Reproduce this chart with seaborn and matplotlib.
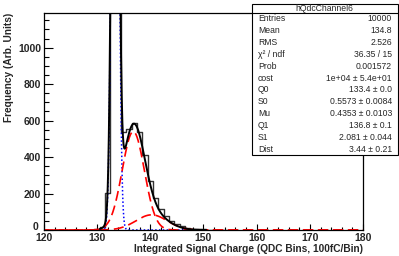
import numpy as np
import pandas as pd
import matplotlib
matplotlib.use("Agg")
import matplotlib.pyplot as plt
import matplotlib.transforms as mtransforms
import seaborn as sns
from matplotlib.patches import Rectangle
from matplotlib.ticker import MultipleLocator

sns.set_theme(style="ticks")
plt.rcParams["font.family"] = ["Liberation Sans", "DejaVu Sans"]

# ── data ─────────────────────────────────────────────────────────────────────
bin_centers = [129, 130, 131, 132, 133, 134, 135, 136, 137, 138, 139, 140,
               141, 142, 143, 144, 145, 146, 147, 148, 149, 150, 151, 152,
               153, 154]
bin_counts = [1, 3, 14, 205, 3450, 2900, 540, 555, 585, 540, 410, 270,
              175, 115, 78, 52, 34, 21, 13, 8, 5, 3, 2, 1, 1, 1]

# fit parameters shown in the stats box
n_entries = 10000
q0, s0 = 133.4, 0.5573
mu = 0.4353
q1, s1 = 136.8, 2.081
dist = 3.44
fit_lo, fit_hi = 130.5, 150.5

stats_names = ["Entries", "Mean", "RMS", "χ² / ndf", "Prob", "cost", "Q0",
               "S0", "Mu", "Q1", "S1", "Dist"]
stats_values = ["10000", "134.8", "2.526", "36.35 / 15", "0.001572",
                "1e+04 ± 5.4e+01", "133.4 ± 0.0", "0.5573 ± 0.0084",
                "0.4353 ± 0.0103", "136.8 ± 0.1", "2.081 ± 0.044",
                "3.44 ± 0.21"]
hist_name = "hQdcChannel6"


def gauss(x, mean, sigma, norm):
    return norm * np.exp(-0.5 * ((x - mean) / sigma) ** 2) / (sigma * np.sqrt(2 * np.pi))


fig = plt.figure(figsize=(3.99, 2.56), dpi=100)
ax = fig.add_axes([0.110, 0.1016, 0.800, 0.8476])

hist = pd.DataFrame({"qdc": bin_centers, "count": bin_counts})
sns.histplot(data=hist, x="qdc", weights="count", binwidth=1,
             binrange=(min(bin_centers) - 0.5, max(bin_centers) + 0.5),
             element="step", fill=False, color="#333333", linewidth=1.0, ax=ax)

# fit components: pedestal, 1 p.e. and 2 p.e. gaussians (Poisson weighted)
p0 = np.exp(-mu)
p1 = mu * p0
p2 = mu ** 2 / 2 * p0
x_full = np.linspace(120, 180, 1200)
x_ped = np.linspace(130, 150, 800)
x_fit = np.linspace(fit_lo, fit_hi, 800)
ped = gauss(x_ped, q0, s0, n_entries * p0)
pe1 = gauss(x_full, q1, s1, n_entries * p1)
pe2 = gauss(x_full, q1 + dist, np.sqrt(2) * s1, n_entries * p2)
total = (gauss(x_fit, q0, s0, n_entries * p0) + gauss(x_fit, q1, s1, n_entries * p1)
         + gauss(x_fit, q1 + dist, np.sqrt(2) * s1, n_entries * p2))

sns.lineplot(x=x_ped, y=ped, color="#0000ff", linewidth=1.1,
             linestyle=(0, (1, 1.5)), ax=ax)
sns.lineplot(x=x_full, y=pe1, color="#ff0000", linewidth=1.2,
             linestyle=(0, (6, 3)), ax=ax)
sns.lineplot(x=x_full, y=pe2, color="#ff0000", linewidth=1.2,
             linestyle=(3, (6, 3)), ax=ax)
sns.lineplot(x=x_fit, y=total, color="black", linewidth=1.4, ax=ax)

ax.set_xlim(120, 180)
ax.set_ylim(0, 1190)
ax.xaxis.set_major_locator(MultipleLocator(10))
ax.xaxis.set_minor_locator(MultipleLocator(2))
ax.yaxis.set_major_locator(MultipleLocator(200))
ax.yaxis.set_minor_locator(MultipleLocator(50))
ax.tick_params(which="both", direction="in", top=False, right=False,
               labelsize=7.5, width=0.8, color="black")
ax.tick_params(axis="x", pad=2)
ax.tick_params(axis="y", pad=2)
ax.tick_params(axis="y", which="major", length=6.5)
ax.tick_params(axis="y", which="minor", length=3.3)
ax.tick_params(axis="x", which="major", length=4)
ax.tick_params(axis="x", which="minor", length=2)
for lab in ax.get_xticklabels() + ax.get_yticklabels():
    lab.set_fontweight("bold")
for sp in ax.spines.values():
    sp.set_linewidth(0.9)
    sp.set_color("black")

# the "0" label sits just above "120", as in the reference
fig.canvas.draw()
zero_lab = [t for t in ax.get_yticklabels() if t.get_text() == "0"][0]
zero_lab.set_transform(zero_lab.get_transform()
                       + mtransforms.ScaledTranslation(-2 / 72, 3 / 72, fig.dpi_scale_trans))

ax.set_xlabel("Integrated Signal Charge (QDC Bins, 100fC/Bin)",
              fontsize=7.3, fontweight="bold", loc="right", labelpad=1)
ax.set_ylabel("Frequency (Arb. Units)", fontsize=7.3, fontweight="bold",
              loc="top", labelpad=3)

# stats box
bx0, bx1, by0, by1 = 252 / 399, 397.5 / 399, 1 - 155 / 256, 1 - 4 / 256
fig.add_artist(Rectangle((bx0, by0), bx1 - bx0, by1 - by0, transform=fig.transFigure,
                         facecolor="white", edgecolor="black", linewidth=0.8,
                         zorder=5))
sep_y = 1 - 13 / 256
fig.add_artist(plt.Line2D([bx0, bx1], [sep_y, sep_y], transform=fig.transFigure,
                          color="black", linewidth=0.8, zorder=6))
fig.text((bx0 + bx1) / 2, 1 - 8.5 / 256, hist_name, ha="center", va="center",
         fontsize=6.2, zorder=7)
row_h = (155 - 13) / len(stats_names)
for i, (name, val) in enumerate(zip(stats_names, stats_values)):
    y = 1 - (13 + row_h * (i + 0.5)) / 256
    fig.text(258 / 399, y, name, ha="left", va="center", fontsize=6.2, zorder=7)
    fig.text(392 / 399, y, val, ha="right", va="center", fontsize=6.2, zorder=7)

fig.savefig("out.png", dpi=100)
